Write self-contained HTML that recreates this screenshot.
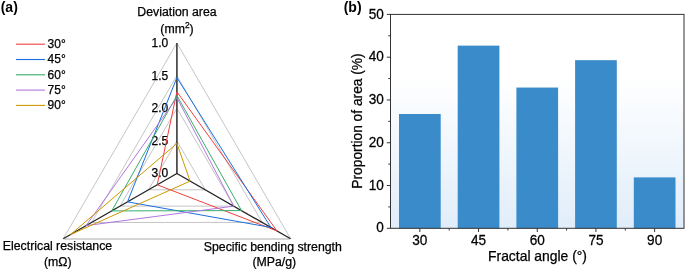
<!DOCTYPE html>
<html><head><meta charset="utf-8"><title>Figure</title>
<style>
html,body{margin:0;padding:0;background:#fff;}
body{width:685px;height:269px;overflow:hidden;}
svg{display:block;font-family:"Liberation Sans",Arial,sans-serif;fill:#000;}
text{stroke:#000;stroke-width:0.25px;}
</style></head><body>
<svg width="685" height="269" viewBox="0 0 685 269">
<defs><linearGradient id="bg" x1="0" y1="0" x2="0" y2="1"><stop offset="0" stop-color="#ffffff"/><stop offset="0.3" stop-color="#ffffff"/><stop offset="1" stop-color="#E0EDFA"/></linearGradient></defs>
<rect width="685" height="269" fill="#fff"/>
<text x="0.7" y="11.7" font-size="14" font-weight="bold" style="stroke-width:0">(a)</text>
<text x="343.7" y="11.7" font-size="14" font-weight="bold" style="stroke-width:0">(b)</text>
<g font-size="12.3" text-anchor="middle">
<text x="177" y="16">Deviation area</text>
<text x="177" y="33">(mm<tspan font-size="8.4" dy="-4.6">2</tspan><tspan dy="4.6">)</tspan></text>
<text x="57.5" y="250.4">Electrical resistance</text>
<text x="57.8" y="266">(mΩ)</text>
<text x="272.8" y="250.5">Specific bending strength</text>
<text x="274.3" y="266">(MPa/g)</text>
</g>
<g fill="none" stroke="#b6b6b6" stroke-width="0.8">
<polygon points="176.90,140.88 205.32,189.81 148.48,189.81"/>
<polygon points="176.90,108.25 233.75,206.12 120.05,206.12"/>
<polygon points="176.90,75.62 262.17,222.44 91.63,222.44"/>
<polyline points="63.21,238.75 176.90,43.00 290.59,238.75"/>
<line x1="64.21" y1="239" x2="289.59" y2="239" stroke="#c6c6c6" stroke-width="1.4"/>
</g>
<g font-size="12" text-anchor="end">
<text x="168.3" y="47.0">1.0</text>
<text x="168.3" y="79.5">1.5</text>
<text x="168.3" y="112.0">2.0</text>
<text x="168.3" y="144.5">2.5</text>
<text x="168.3" y="177.0">3.0</text>
</g>
<line x1="176.90" y1="173.90" x2="176.90" y2="43.00" stroke="#454545" stroke-width="1.7"/>
<g stroke="#222" stroke-width="1.3" stroke-linecap="butt">
<line x1="176.90" y1="173.50" x2="290.59" y2="238.75"/>
<line x1="176.90" y1="173.50" x2="63.21" y2="238.75"/>
</g>
<g fill="none" stroke-width="1" stroke-linejoin="miter">
<polygon stroke="#F14040" points="176.90,91.80 277.00,230.95 157.21,184.80"/>
<polygon stroke="#1A6FDF" points="176.90,77.60 270.90,227.45 127.50,201.85"/>
<polygon stroke="#37AD6B" points="176.90,95.50 241.54,210.60 111.73,210.90"/>
<polygon stroke="#B177DE" points="176.90,97.70 233.79,206.15 86.12,225.60"/>
<polygon stroke="#CC9900" points="176.90,143.50 190.14,181.10 70.52,234.55"/>
</g>
<line x1="16" y1="44.2" x2="45" y2="44.2" stroke="#F14040" stroke-width="1.1"/>
<text x="47.6" y="48.1" font-size="12">30°</text>
<line x1="16" y1="59.5" x2="45" y2="59.5" stroke="#1A6FDF" stroke-width="1.1"/>
<text x="47.6" y="63.4" font-size="12">45°</text>
<line x1="16" y1="74.8" x2="45" y2="74.8" stroke="#37AD6B" stroke-width="1.1"/>
<text x="47.6" y="78.7" font-size="12">60°</text>
<line x1="16" y1="90.1" x2="45" y2="90.1" stroke="#B177DE" stroke-width="1.1"/>
<text x="47.6" y="94.0" font-size="12">75°</text>
<line x1="16" y1="105.4" x2="45" y2="105.4" stroke="#CC9900" stroke-width="1.1"/>
<text x="47.6" y="109.3" font-size="12">90°</text>
<rect x="390.50" y="14.40" width="293.50" height="213.90" fill="url(#bg)"/>
<rect x="399.00" y="113.99" width="41.7" height="114.31" fill="#3A8BC9"/>
<rect x="457.70" y="45.63" width="41.7" height="182.67" fill="#3A8BC9"/>
<rect x="516.40" y="87.55" width="41.7" height="140.75" fill="#3A8BC9"/>
<rect x="575.10" y="60.17" width="41.7" height="168.13" fill="#3A8BC9"/>
<rect x="633.80" y="177.39" width="41.7" height="50.91" fill="#3A8BC9"/>
<g stroke="#333" stroke-width="1">
<rect x="390.50" y="14.40" width="293.50" height="213.90" fill="none"/>
<line x1="386.80" y1="228.30" x2="390.50" y2="228.30"/>
<line x1="386.80" y1="185.52" x2="390.50" y2="185.52"/>
<line x1="386.80" y1="142.74" x2="390.50" y2="142.74"/>
<line x1="386.80" y1="99.96" x2="390.50" y2="99.96"/>
<line x1="386.80" y1="57.18" x2="390.50" y2="57.18"/>
<line x1="386.80" y1="14.40" x2="390.50" y2="14.40"/>
<line x1="388.30" y1="206.91" x2="390.50" y2="206.91"/>
<line x1="388.30" y1="164.13" x2="390.50" y2="164.13"/>
<line x1="388.30" y1="121.35" x2="390.50" y2="121.35"/>
<line x1="388.30" y1="78.57" x2="390.50" y2="78.57"/>
<line x1="388.30" y1="35.79" x2="390.50" y2="35.79"/>
<line x1="419.85" y1="228.30" x2="419.85" y2="232.00"/>
<line x1="478.55" y1="228.30" x2="478.55" y2="232.00"/>
<line x1="537.25" y1="228.30" x2="537.25" y2="232.00"/>
<line x1="595.95" y1="228.30" x2="595.95" y2="232.00"/>
<line x1="654.65" y1="228.30" x2="654.65" y2="232.00"/>
<line x1="449.20" y1="228.30" x2="449.20" y2="230.50"/>
<line x1="507.90" y1="228.30" x2="507.90" y2="230.50"/>
<line x1="566.60" y1="228.30" x2="566.60" y2="230.50"/>
<line x1="625.30" y1="228.30" x2="625.30" y2="230.50"/>
</g>
<g font-size="13.6" text-anchor="end">
<text transform="translate(383.90,232.40) scale(1,1.07)">0</text>
<text transform="translate(383.90,189.62) scale(1,1.07)">10</text>
<text transform="translate(383.90,146.84) scale(1,1.07)">20</text>
<text transform="translate(383.90,104.06) scale(1,1.07)">30</text>
<text transform="translate(383.90,61.28) scale(1,1.07)">40</text>
<text transform="translate(383.90,18.50) scale(1,1.07)">50</text>
</g>
<g font-size="13.6" text-anchor="middle">
<text transform="translate(419.85,245.10) scale(1,1.07)">30</text>
<text transform="translate(478.55,245.10) scale(1,1.07)">45</text>
<text transform="translate(537.25,245.10) scale(1,1.07)">60</text>
<text transform="translate(595.95,245.10) scale(1,1.07)">75</text>
<text transform="translate(654.65,245.10) scale(1,1.07)">90</text>
<text x="537.5" y="260.5" font-size="13.9">Fractal angle (°)</text>
<text transform="translate(361.5,121) rotate(-90)" font-size="13.75">Proportion of area (%)</text>
</g>
</svg>
</body></html>
